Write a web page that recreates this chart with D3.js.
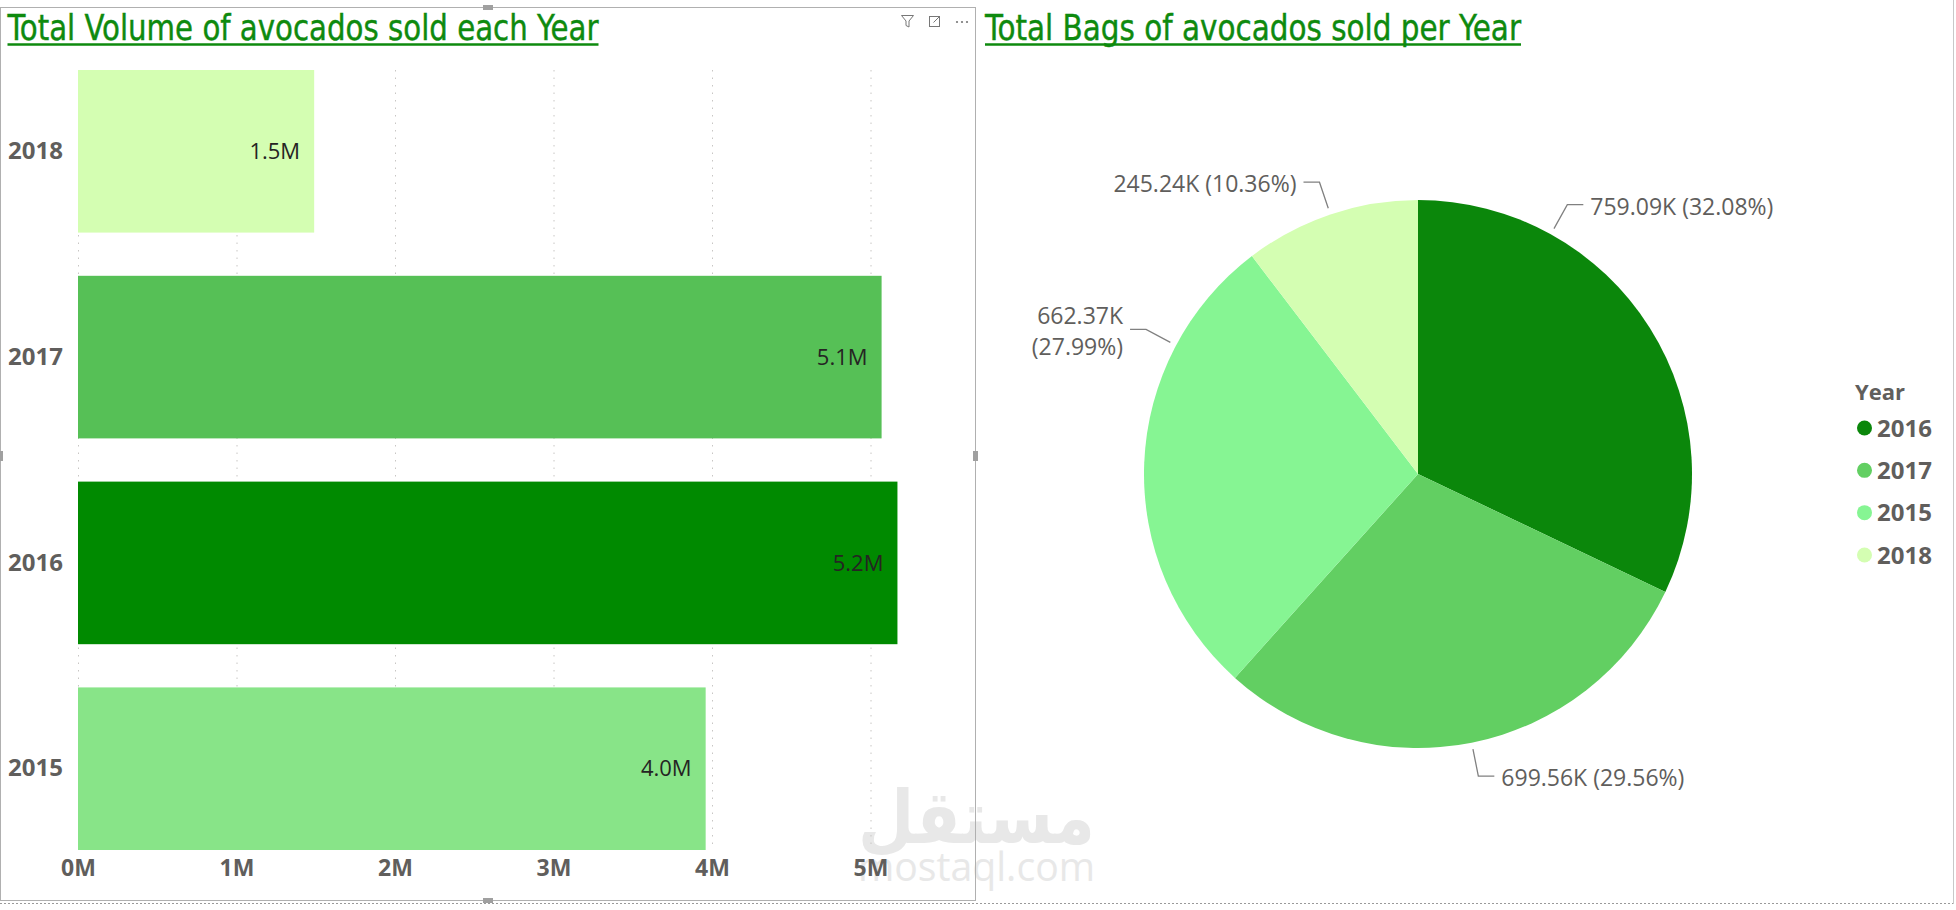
<!DOCTYPE html>
<html>
<head>
<meta charset="utf-8">
<script src="https://cdn.jsdelivr.net/npm/d3@7"></script>
<style>
  body { margin: 0; background: #fff; }
  svg { display: block; }
  text { font-family: "Open Sans", "Segoe UI", sans-serif; }
</style>
</head>
<body>
<svg id="chart" width="1956" height="910"></svg>
<script>
// bar chart data
const years = ["2018", "2017", "2016", "2015"];
const volumes = [1.49e6, 5.07e6, 5.17e6, 3.96e6];
const barColors = ["#D4FEB2", "#56C056", "#008A00", "#88E488"];
const xTicks = [0, 1e6, 2e6, 3e6, 4e6, 5e6];

// pie data
const pieYears = ["2016", "2017", "2015", "2018"];
const bags = [759090, 699560, 662370, 245240];
const pieColors = ["#0B870B", "#62CF62", "#86F593", "#D4FEB2"];
// where Power BI pushed the labels (degrees, null = slice middle)
const labelAngles = [29, null, 298, null];
const labelWrap = [false, false, true, false];

const svg = d3.select("#chart");
const grey = "#605E5C";

// watermark (behind everything)
svg.append("text")
  .attr("x", 858).attr("y", 843)
  .attr("textLength", 237).attr("lengthAdjust", "spacingAndGlyphs")
  .style("font-family", "'DejaVu Sans', sans-serif")
  .attr("font-weight", "bold").attr("font-size", 74)
  .attr("fill", "#e8e8e8")
  .text("مستقل");
svg.append("text")
  .attr("x", 858).attr("y", 881)
  .attr("textLength", 237).attr("lengthAdjust", "spacingAndGlyphs")
  .attr("font-size", 40)
  .attr("fill", "#e8e8e8")
  .text("mostaql.com");

// frame of the selected visual
const frame = svg.append("g").attr("stroke", "#b0b0b0").attr("fill", "none");
frame.append("rect").attr("x", 0.5).attr("y", 7.5).attr("width", 975).attr("height", 893);
svg.append("line").attr("x1", 0).attr("x2", 1956).attr("y1", 903.5).attr("y2", 903.5)
  .attr("stroke", "#9a9a9a").attr("stroke-dasharray", "2,2");
svg.append("line").attr("x1", 1953.5).attr("x2", 1953.5).attr("y1", 0).attr("y2", 904)
  .attr("stroke", "#c8c8c8");
[[483, 5, 10, 5], [973, 451, 5, 10], [0, 451, 3, 10], [483, 898, 10, 5]].forEach(h => {
  svg.append("rect").attr("x", h[0]).attr("y", h[1]).attr("width", h[2]).attr("height", h[3])
    .attr("fill", "#a0a0a0");
});

// header icons
const icons = svg.append("g").attr("stroke", "#777").attr("fill", "none").attr("stroke-width", 1);
icons.append("path").attr("d", "M901.5,15.5 h12 l-4.5,5.5 v6 l-3,-1.5 v-4.5 z");
icons.append("rect").attr("x", 929.5).attr("y", 16.5).attr("width", 10).attr("height", 10);
icons.append("path").attr("d", "M933.5,22.5 l6,-6 M935.5,16.5 h4 v4");
[957, 962, 967].forEach(cx => svg.append("circle").attr("cx", cx).attr("cy", 22).attr("r", 1.1).attr("fill", "#777"));

// titles
function title(x, y, w, str) {
  svg.append("text")
    .attr("x", x).attr("y", y)
    .attr("textLength", w).attr("lengthAdjust", "spacingAndGlyphs")
    .style("font-family", "'Liberation Sans Narrow', 'DejaVu Sans Condensed', sans-serif")
    .attr("font-size", 35)
    .attr("fill", "#0E8A0E")
    .attr("stroke", "#0E8A0E").attr("stroke-width", 0.4)
    .text(str);
  svg.append("line")
    .attr("x1", x).attr("x2", x + w).attr("y1", y + 4.5).attr("y2", y + 4.5)
    .attr("stroke", "#0E8A0E").attr("stroke-width", 2.5);
}
title(7.5, 40, 591, "Total Volume of avocados sold each Year");
title(985, 40, 536, "Total Bags of avocados sold per Year");

// ---- bar chart ----
const x = d3.scaleLinear().domain([0, 5e6]).range([78, 870.5]);
const y = d3.scaleBand().domain(years).range([70, 850]).paddingInner(0.21);

const grid = svg.append("g")
  .attr("transform", "translate(0,70)")
  .call(d3.axisTop(x).tickValues(xTicks).tickSize(-780).tickFormat(""));
grid.select(".domain").remove();
grid.selectAll("line").attr("stroke", "#c8c6c4").attr("stroke-dasharray", "1.5,6");

svg.append("g").selectAll("rect")
  .data(years)
  .join("rect")
  .attr("x", x(0))
  .attr("y", d => y(d))
  .attr("width", (d, i) => x(volumes[i]) - x(0))
  .attr("height", y.bandwidth())
  .attr("fill", (d, i) => barColors[i]);

svg.append("g").selectAll("text")
  .data(years)
  .join("text")
  .attr("x", (d, i) => x(volumes[i]) - 14)
  .attr("y", d => y(d) + y.bandwidth() / 2)
  .attr("dy", "0.35em")
  .attr("text-anchor", "end")
  .attr("font-size", 22)
  .attr("fill", "#252423")
  .text((d, i) => d3.format(".1f")(volumes[i] / 1e6) + "M");

const xAxis = svg.append("g")
  .attr("transform", "translate(0,850)")
  .call(d3.axisBottom(x).tickValues(xTicks).tickSize(0).tickPadding(10).tickFormat(d => d / 1e6 + "M"));
xAxis.select(".domain").remove();
xAxis.selectAll("text").attr("font-size", 23).attr("font-weight", "bold").attr("fill", grey)
  .style("font-family", "'Open Sans', sans-serif");

const yAxis = svg.append("g")
  .attr("transform", "translate(78,0)")
  .call(d3.axisLeft(y).tickSize(0).tickPadding(15));
yAxis.select(".domain").remove();
yAxis.selectAll("text").attr("font-size", 24).attr("font-weight", "bold").attr("fill", grey)
  .style("font-family", "'Open Sans', sans-serif");

// ---- pie chart ----
const cx = 1418, cy = 474, r = 274;
const total = d3.sum(bags);
const pie = d3.pie().sort(null).value(d => d)(bags);
const arc = d3.arc().innerRadius(0).outerRadius(r);
const pg = svg.append("g").attr("transform", `translate(${cx},${cy})`);

pg.selectAll("path")
  .data(pie)
  .join("path")
  .attr("d", arc)
  .attr("fill", (d, i) => pieColors[i]);

const pt = (a, rad) => [Math.sin(a) * rad, -Math.cos(a) * rad];
pie.forEach((d, i) => {
  const a = labelAngles[i] != null ? labelAngles[i] * Math.PI / 180 : (d.startAngle + d.endAngle) / 2;
  const right = a < Math.PI;
  const p0 = pt(a, r + 6.5), p1 = pt(a, r + 34);
  const p2 = [p1[0] + (right ? 16 : -16), p1[1]];
  pg.append("polyline")
    .attr("points", [p0, p1, p2].map(p => p.join(",")).join(" "))
    .attr("fill", "none").attr("stroke", "#808080").attr("stroke-width", 1.3);
  const val = d3.format(".2f")(bags[i] / 1000) + "K";
  const pct = "(" + d3.format(".2%")(bags[i] / total) + ")";
  const t = pg.append("text")
    .attr("x", p2[0] + (right ? 7 : -7))
    .attr("text-anchor", right ? "start" : "end")
    .attr("font-size", 23)
    .attr("fill", grey);
  if (labelWrap[i]) {
    t.append("tspan").attr("x", p2[0] - 7).attr("y", p2[1] - 13).attr("dy", "0.35em").text(val);
    t.append("tspan").attr("x", p2[0] - 7).attr("y", p2[1] + 18).attr("dy", "0.35em").text(pct);
  } else {
    t.attr("y", p2[1] + 2).attr("dy", "0.35em").text(val + " " + pct);
  }
});

// legend
const lg = svg.append("g").attr("transform", "translate(1855,0)");
lg.append("text").attr("x", 0).attr("y", 392).attr("dy", "0.35em")
  .attr("font-size", 22).attr("font-weight", "bold").attr("fill", grey).text("Year");
const ly = d3.scalePoint().domain(pieYears).range([428, 555]);
pieYears.forEach((yr, i) => {
  lg.append("circle").attr("cx", 9.5).attr("cy", ly(yr)).attr("r", 7.5).attr("fill", pieColors[i]);
  lg.append("text").attr("x", 22).attr("y", ly(yr)).attr("dy", "0.36em")
    .attr("font-size", 24).attr("font-weight", "bold").attr("fill", grey).text(yr);
});
</script>
</body>
</html>
